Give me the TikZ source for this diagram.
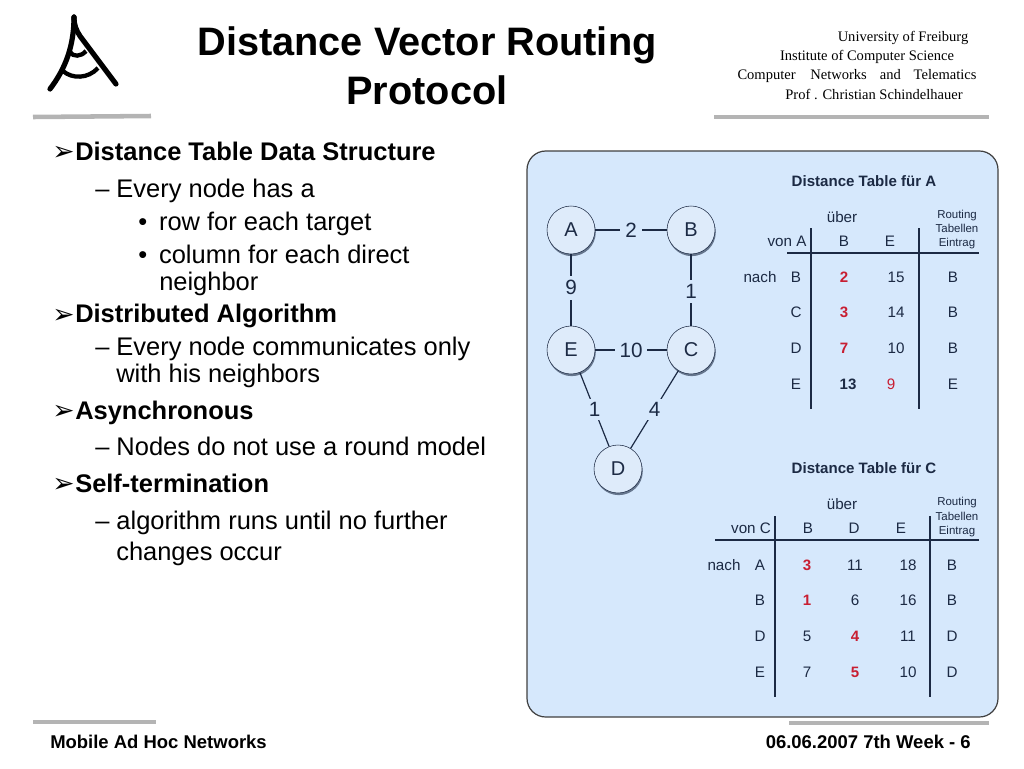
\documentclass[tikz,border=0pt]{standalone}
\usepackage{fontspec}
\setmainfont{Liberation Sans}
\newfontfamily\serifhead{Liberation Serif}
\newfontfamily\dingfont{DejaVu Sans}
\usetikzlibrary{shadows}
\definecolor{panelblue}{RGB}{214,232,252}
\definecolor{nodeblue}{RGB}{222,235,250}
\definecolor{inkblue}{RGB}{28,42,68}
\definecolor{tabred}{RGB}{200,30,50}
\definecolor{bargray}{RGB}{180,180,180}
\tikzset{
  router/.style={shape=circle,draw=inkblue,fill=nodeblue,minimum size=48*0.75pt,inner sep=0pt,font=\fontsize{15}{16}\selectfont,text=inkblue,drop shadow={shadow xshift=0.6pt,shadow yshift=-1.6pt,opacity=0.6,fill=inkblue}},
  cost/.style={fill=panelblue,inner sep=3.6pt,font=\fontsize{15.5}{16}\selectfont,text=inkblue},
  link/.style={draw=inkblue,line width=0.9pt},
  bar/.style={draw=bargray,line width=3.4pt},
  head/.style={font=\fontsize{29.8}{36}\selectfont\bfseries,align=center,inner sep=0pt},
  uni/.style={font=\serifhead\fontsize{10.9}{13}\selectfont,inner sep=0pt},
  lvla/.style={anchor=base west,inner sep=0pt,font=\fontsize{19.1}{21}\selectfont\bfseries},
  lvlb/.style={anchor=base west,inner sep=0pt,font=\fontsize{19.1}{21}\selectfont},
  arrowmark/.style={anchor=base west,inner sep=0pt,font=\dingfont\fontsize{20}{22}\selectfont},
  foot/.style={anchor=base,inner sep=0pt,font=\fontsize{13.85}{16}\selectfont\bfseries},
  tt/.style={inner sep=0pt,font=\fontsize{11.3}{13}\selectfont\bfseries,text=inkblue},
  cell/.style={inner sep=0pt,font=\fontsize{11.4}{13}\selectfont,text=inkblue},
  best/.style={inner sep=0pt,font=\fontsize{11.3}{13}\selectfont\bfseries,text=tabred},
  small/.style={anchor=base,inner sep=0pt,font=\fontsize{8.6}{10}\selectfont,text=inkblue},
  grid/.style={draw=inkblue,line width=1.3pt},
}
\begin{document}
\begin{tikzpicture}[x=0.75pt,y=-0.75pt]
\useasboundingbox (0,0) rectangle (1024,768);

% logo
\draw[line width=3.9pt,line cap=round] (74,17) .. controls (74,25) and (76,30) .. (80,36) -- (116,84);
\draw[line width=3.9pt,line cap=round] (74,17) .. controls (74,45) and (66,68) .. (50,89);
\draw[line width=3.2pt] (70,52) .. controls (73,57) and (81,57) .. (86,51);
\draw[line width=3.2pt] (63,71) .. controls (72,79) and (88,79) .. (98,68);

% bars
\draw[bar] (33,117) -- (151,116);
\draw[bar] (714,117) -- (989,117);
\draw[bar] (33,722) -- (156,722);
\draw[bar] (789,723) -- (989,723);

% title
\node[head] (title) at (427,66) {Distance Vector Routing\\[1pt]Protocol};
\node[uni] (uni1) at (903,38) {University of Freiburg};
\node[uni] (uni2) at (867,57) {Institute of Computer Science};
\node[uni] (uni3) at (857,76) {Computer\hspace{11pt}Networks\hspace{7pt} and\hspace{7pt} Telematics};
\node[uni] (uni4) at (874,94) {Prof . Christian Schindelhauer};

% bullets
\node[arrowmark] (m1) at (52,160) {➢};
\node[lvla] (t1) at (75,160) {Distance Table Data Structure};
\node[lvlb] (t2) at (95,197) {– Every node has a};
\node[lvlb] (t3) at (138,230) {• \hspace{3.6pt}row for each target};
\node[lvlb] (t4) at (138,263) {• \hspace{3.6pt}column for each direct};
\node[lvlb] (t5) at (159,290) {neighbor};
\node[arrowmark] (m2) at (52,323) {➢};
\node[lvla] (t6) at (75,322) {Distributed Algorithm};
\node[lvlb] (t7) at (95,355) {– Every node communicates only};
\node[lvlb] (t8) at (116,382) {with his neighbors};
\node[arrowmark] (m3) at (52,419) {➢};
\node[lvla] (t9) at (75,419) {Asynchronous};
\node[lvlb] (t10) at (95,455) {– Nodes do not use a round model};
\node[arrowmark] (m4) at (52,492) {➢};
\node[lvla] (t11) at (75,492) {Self-termination};
\node[lvlb] (t12) at (95,529) {– algorithm runs until no further};
\node[lvlb] (t13) at (116,560) {changes occur};

% footer
\node[foot,anchor=base west] (f1) at (50,748) {Mobile Ad Hoc Networks};
\node[foot,anchor=base east] (f2) at (971,748) {06.06.2007 7th Week - 6};

% panel
\draw[fill=panelblue,draw=black!75,line width=0.9pt,rounded corners=14pt] (527,151) rectangle (998,717);

% network
\node[router] (A) at (571,230) {A};
\node[router] (B) at (691,230) {B};
\node[router] (E) at (571,350) {E};
\node[router] (C) at (691,350) {C};
\node[router] (D) at (618,469) {D};
\path [link] (A) edge node[cost] {2} (B);
\path [link] (A) edge node[cost,pos=0.47] {9} (E);
\path [link] (B) edge node[cost,pos=0.52] {1} (C);
\path [link] (E) edge node[cost] {10} (C);
\path [link] (E) edge node[cost,inner sep=2.6pt] {1} (D);
\path [link] (C) edge node[cost,inner sep=2.6pt] {4} (D);

% table A
\node[tt] (ta) at (864,181) {Distance Table für A};
\node[cell] (ua) at (842,217) {über};
\node[small] (ra1) at (957,218) {Routing};
\node[small] (ra2) at (957,232) {Tabellen};
\node[small] (ra3) at (957,246) {Eintrag};
\node[cell] (va) at (787,241) {von A};
\node[cell] (xab) at (844,241) {B};
\node[cell] (xae) at (890,241) {E};
\coordinate (agl) at (787,253);
\coordinate (agr) at (979,253);
\coordinate (av1) at (811,228);
\coordinate (av2) at (811,409);
\coordinate (av3) at (919,228);
\coordinate (av4) at (919,409);
\draw[grid] (agl) -- (agr);
\draw[grid] (av1) -- (av2);
\draw[grid] (av3) -- (av4);
\node[cell] (na) at (760,277) {nach};
\foreach \rowname/\ypos/\first/\second/\via in {B/277/2/15/B,C/312/3/14/B,D/348/7/10/B}{
  \node[cell] (a\rowname) at (796,\ypos) {\rowname};
  \node[best] (a\rowname1) at (844,\ypos) {\first};
  \node[cell] (a\rowname2) at (896,\ypos) {\second};
  \node[cell] (a\rowname3) at (953,\ypos) {\via};
}
\node[cell] (aE) at (796,384) {E};
\node[tt] (aE1) at (848,384) {13};
\node[cell,text=tabred] (aE2) at (891,384) {9};
\node[cell] (aE3) at (953,384) {E};

% table C
\node[tt] (tc) at (864,468) {Distance Table für C};
\node[cell] (uc) at (842,504) {über};
\node[small] (rc1) at (957,505) {Routing};
\node[small] (rc2) at (957,520) {Tabellen};
\node[small] (rc3) at (957,534) {Eintrag};
\node[cell] (vc) at (751,528) {von C};
\node[cell] (xcb) at (808,528) {B};
\node[cell] (xcd) at (854,528) {D};
\node[cell] (xce) at (901,528) {E};
\coordinate (cgl) at (715,540);
\coordinate (cgr) at (979,540);
\coordinate (cv1) at (775,516);
\coordinate (cv2) at (775,697);
\coordinate (cv3) at (930,516);
\coordinate (cv4) at (930,697);
\draw[grid] (cgl) -- (cgr);
\draw[grid] (cv1) -- (cv2);
\draw[grid] (cv3) -- (cv4);
\node[cell] (nc) at (724,565) {nach};
\foreach \rowname/\ypos/\first/\firststyle/\second/\secondstyle/\third/\via in {A/565/3/best/11/cell/18/B,B/600/1/best/6/cell/16/B,D/636/5/cell/4/best/11/D,E/672/7/cell/5/best/10/D}{
  \node[cell] (c\rowname) at (760,\ypos) {\rowname};
  \node[\firststyle] (c\rowname1) at (807,\ypos) {\first};
  \node[\secondstyle] (c\rowname2) at (855,\ypos) {\second};
  \node[cell] (c\rowname3) at (908,\ypos) {\third};
  \node[cell] (c\rowname4) at (952,\ypos) {\via};
}
\end{tikzpicture}
\end{document}
